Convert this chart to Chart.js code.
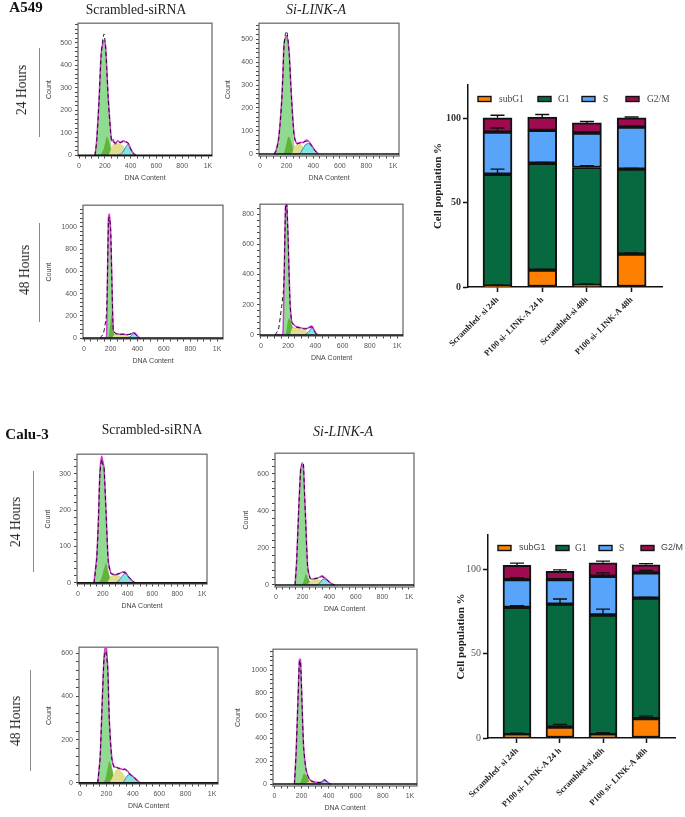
<!DOCTYPE html>
<html lang="en">
<head>
    <meta charset="UTF-8">
    <title>Cell cycle flow cytometry</title>
    <script src="https://cdn.jsdelivr.net/npm/chart.js"></script>
    <style>
        html, body { margin: 0; padding: 0; background: #fff; }
        body { position: relative; width: 685px; height: 817px; overflow: hidden; }
        canvas { position: absolute; filter: blur(0.4px); }
        .t { position: absolute; font-family: "Liberation Serif", serif; color: #222; white-space: nowrap; transform: translate(-50%, -50%); filter: blur(0.3px); }
        .b { font-weight: bold; font-size: 15px; color: #111; }
        .h { font-size: 13.6px; }
        .i { font-size: 14px; font-style: italic; }
        .r { font-size: 13.6px; transform: translate(-50%, -50%) rotate(-90deg); }
        .l { position: absolute; width: 1px; background: #8a8a8a; }
    </style>
</head>
<body>
    <div class="t b" style="left:26px;top:7px">A549</div>
    <div class="t h" style="left:136px;top:10px">Scrambled-siRNA</div>
    <div class="t i" style="left:316px;top:10px">Si-LINK-A</div>
    <div class="t r" style="left:22px;top:90px">24 Hours</div>
    <div class="l" style="left:39px;top:48px;height:89px"></div>
    <div class="t r" style="left:25px;top:270px">48 Hours</div>
    <div class="l" style="left:39px;top:223px;height:99px"></div>
    <div class="t b" style="left:27px;top:434px">Calu-3</div>
    <div class="t h" style="left:152px;top:430px">Scrambled-siRNA</div>
    <div class="t i" style="left:343px;top:432px">Si-LINK-A</div>
    <div class="t r" style="left:16px;top:522px">24 Hours</div>
    <div class="l" style="left:33px;top:471px;height:101px"></div>
    <div class="t r" style="left:16px;top:721px">48 Hours</div>
    <div class="l" style="left:30px;top:670px;height:101px"></div>

    <script>
        // A549 24h scrambled
        const h1X     = [124,137,155,171,185,194,205,215,225,233,243,253,265,280,300,320,340,360,380,400,420,440];
        const h1Total = [0,68,244,449,500,510,490,390,270,200,120,65,70,50,65,55,65,60,55,30,10,0];
        const h1Model = [0,62,240,445,520,540,490,385,265,190,115,60,60,55,58,58,60,62,55,28,8,0];
        const h1G1    = [0,62,240,445,495,505,485,380,260,175,85,30,8];
        const h1Dark  = [0,0,0,5,20,35,60,85,75,60,35,15,3];
        const h1S     = [0,0,0,0,0,0,0,0,0,5,20,35,50,50,55,50,45,30,12];
        const h1G2M   = [0,0,0,0,0,0,0,0,0,0,0,0,0,0,0,5,15,35,50,30,8];

        // A549 24h si-LINK-A
        const h2X     = [105,120,138,150,163,172,180,190,200,210,220,230,238,248,258,276,300,325,345,365,385,405,425,440];
        const h2Total = [0,15,62,130,234,350,478,505,514,490,435,320,234,140,76,45,50,50,60,55,40,22,8,0];
        const h2Model = [0,12,58,125,230,345,470,520,535,500,425,310,225,135,72,44,48,50,55,52,38,20,6,0];
        const h2G1    = [0,12,58,125,230,345,470,500,508,480,420,300,205,100,40,8];
        const h2Dark  = [0,0,0,0,0,0,5,25,50,72,75,60,45,25,10];
        const h2S     = [0,0,0,0,0,0,0,0,0,0,0,0,0,15,32,40,45,30,15,5];
        const h2G2M   = [0,0,0,0,0,0,0,0,0,0,0,0,0,0,0,0,2,25,42,45,35,20,6];

        // A549 48h scrambled
        const h3X     = [120,145,165,170,175,183,190,200,210,220,235,260,290,320,345,360,375,390,405,420];
        const h3Total = [0,0,0,20,455,1080,1116,961,485,68,45,35,35,30,35,40,50,35,12,0];
        const h3Model = [0,39,173,250,470,1050,1090,980,480,65,40,33,33,30,33,38,45,30,10,0];
        const h3G1    = [0,0,0,20,450,1070,1105,950,470,40,10];
        const h3Dark  = [0,0,0,0,0,0,50,150,220,60,20];
        const h3S     = [0,0,0,0,0,0,0,0,0,20,32,33,33,28,18,8];
        const h3G2M   = [0,0,0,0,0,0,0,0,0,0,0,0,0,0,10,25,42,30,10];

        // A549 48h si-LINK-A
        const h4X     = [103,128,152,160,164,171,181,189,200,213,226,240,260,290,320,345,360,375,390,405,420];
        const h4Total = [0,0,0,0,60,406,880,880,625,232,90,70,55,48,42,45,55,58,35,10,0];
        const h4Model = [0,35,188,250,275,400,870,870,640,220,85,65,52,46,40,42,50,52,30,8,0];
        const h4G1    = [0,0,0,0,55,400,870,870,600,200,40,10];
        const h4Dark  = [0,0,0,0,0,0,0,40,100,110,70,45,15];
        const h4S     = [0,0,0,0,0,0,0,0,0,0,40,55,48,45,35,18,8];
        const h4G2M   = [0,0,0,0,0,0,0,0,0,0,0,0,0,0,0,15,32,48,30,10];

        // Calu-3 24h scrambled
        const h5X     = [129,151,164,177,191,200,210,226,244,264,280,300,320,340,360,380,400,420,440,460];
        const h5Total = [0,71,171,307,348,335,316,198,62,28,25,22,25,27,30,30,20,12,5,0];
        const h5Model = [0,66,165,300,340,325,320,195,58,26,23,22,24,26,28,28,20,12,5,0];
        const h5G1    = [0,66,165,298,342,330,312,180,40,5];
        const h5Dark  = [0,0,0,5,15,25,40,55,30,8];
        const h5S     = [0,0,0,0,0,0,0,0,5,20,22,22,22,18,10,3];
        const h5G2M   = [0,0,0,0,0,0,0,0,0,0,0,0,4,10,20,27,20,12,5];

        // Calu-3 24h si-LINK-A
        const h6X     = [143,155,171,186,196,205,214,223,238,256,270,290,310,330,345,360,380,400,420,440];
        const h6Total = [0,134,420,634,640,650,500,348,98,38,32,35,38,42,50,42,30,18,6,0];
        const h6Model = [0,128,415,630,660,665,500,340,92,36,30,33,36,40,45,40,28,16,5,0];
        const h6G1    = [0,128,415,628,635,645,490,330,70,15];
        const h6Dark  = [0,0,0,0,5,15,35,60,40,15,3];
        const h6S     = [0,0,0,0,0,0,0,0,5,18,27,32,34,28,18,8];
        const h6G2M   = [0,0,0,0,0,0,0,0,0,0,0,0,0,12,27,33,28,16,5];

        // Calu-3 48h scrambled
        const h7X     = [134,152,167,182,195,210,222,240,258,280,300,320,340,360,380,400,420,440,455];
        const h7Total = [0,119,363,585,640,531,287,119,75,72,68,62,65,55,40,30,20,8,0];
        const h7Model = [0,115,358,580,610,525,285,115,70,70,65,60,62,52,38,28,18,7,0];
        const h7G1    = [0,115,358,578,630,520,275,90,20];
        const h7Dark  = [0,0,0,5,25,70,100,70,25];
        const h7S     = [0,0,0,0,0,0,0,20,45,65,60,48,30,12];
        const h7G2M   = [0,0,0,0,0,0,0,0,0,0,0,0,15,35,40,30,18,7];

        // Calu-3 48h si-LINK-A
        const h8X     = [148,160,173,185,193,205,216,235,259,285,310,340,355,370,385,400,415];
        const h8Total = [0,267,700,1093,1093,672,325,122,40,22,15,15,25,38,25,8,0];
        const h8Model = [0,260,690,1080,1075,680,320,118,38,20,14,14,23,35,23,7,0];
        const h8G1    = [0,260,690,1080,1085,660,300,90,15];
        const h8Dark  = [0,0,0,0,15,50,90,80,20];
        const h8S     = [0,0,0,0,0,0,0,10,20,18,14,10,5];
        const h8G2M   = [0,0,0,0,0,0,0,0,0,0,0,0,15,33,25,8];

        // stacked bars, percent
        const barCats = ['Scrambled- si 24h', 'P100 si- LINK-A 24 h', 'Scrambled-si 48h', 'P100 si- LINK-A 48h'];
        const phases  = ['subG1', 'G1', 'S', 'G2/M'];

        const a549SubG1 = [0.5, 10, 1, 19.5];
        const a549G1    = [66.5, 63.5, 70, 50.5];
        const a549S     = [25, 19.5, 20.5, 25];
        const a549G2M   = [8.5, 8, 6, 5.5];
        const a549SubG1Err = [0.5, 0.5, 0.8, 0.7];
        const a549G1Err    = [3, 0.5, 1, 0.5];
        const a549SErr     = [2.5, 0.5, 0.7, 0.5];
        const a549G2MErr   = [1.5, 1.5, 0.8, 0.5];

        const caluSubG1 = [2, 6.5, 2, 11.5];
        const caluG1    = [75.5, 73, 71, 71.5];
        const caluS     = [16.5, 14.5, 23, 15];
        const caluG2M   = [8.5, 5, 8, 4.8];
        const caluSubG1Err = [0.8, 1.5, 1.2, 1.5];
        const caluG1Err    = [1, 3, 3.5, 0.5];
        const caluSErr     = [1.2, 0.5, 2, 1.5];
        const caluG2MErr   = [1.3, 0.8, 1, 0.7];

        const barColors = ['#ff8000', '#07693f', '#58a4fb', '#9e0b50'];

        function pts(xs, ys) {
            return xs.map((x, i) => ({ x: x, y: ys[i] || 0 }));
        }

        // plot frame round each histogram
        const framePlugin = {
            id: 'frame',
            beforeDatasetsDraw(chart) {
                const a = chart.chartArea, c = chart.ctx;
                c.save();
                c.strokeStyle = '#6e6e6e';
                c.lineWidth = 1.3;
                c.strokeRect(a.left, a.top, a.right - a.left, a.bottom - a.top);
                c.restore();
            }
        };

        function histogram(p, xs, total, model, g1, dark, s, g2m) {
            // top padding has to clear half a tick label or the layout pushes the plot down
            const left = p.l - p.gap - 4, top = p.t - 6;
            const cv = document.createElement('canvas');
            cv.width = p.r - left + 8;
            cv.height = p.b + 26 - top;
            cv.style.left = left + 'px';
            cv.style.top = top + 'px';
            document.body.appendChild(cv);

            const area = (ys, color) => ({
                data: pts(xs, ys), backgroundColor: color, borderWidth: 0, fill: 'origin', pointRadius: 0, tension: 0.2
            });
            new Chart(cv.getContext('2d'), {
                type: 'line',
                data: {
                    datasets: [
                        { data: [{ x: p.xMin, y: 0 }, { x: p.xMax, y: 0 }], borderColor: '#111', borderWidth: 1.6, pointRadius: 0 },
                        { data: pts(xs, model), borderColor: '#111', borderWidth: 1, borderDash: [4, 3], pointRadius: 0, tension: 0.2 },
                        { data: pts(xs, total), borderColor: '#d43ad4', borderWidth: 1.5, pointRadius: 0, tension: 0.2 },
                        Object.assign(area(g2m, '#7fe6e0'), { borderColor: '#3a78d8', borderWidth: 1 }),
                        area(s, '#e4dc8e'),
                        area(dark, '#62b23c'),
                        area(g1, '#8fdc90')
                    ]
                },
                options: {
                    responsive: false,
                    animation: false,
                    devicePixelRatio: 1,
                    layout: { padding: { top: 6, right: 8 } },
                    plugins: { legend: { display: false }, tooltip: { enabled: false } },
                    scales: {
                        x: {
                            type: 'linear', min: p.xMin, max: p.xMax,
                            afterBuildTicks(sc) {
                                const list = [];
                                for (let v = 0; v <= 1000; v += 50) list.push({ value: v });
                                sc.ticks = list;
                            },
                            afterFit(sc) { sc.height = 26; },
                            border: { display: false },
                            grid: { drawOnChartArea: false, tickLength: 2.5, tickColor: '#444' },
                            ticks: {
                                autoSkip: false, maxRotation: 0, padding: 3, color: '#555',
                                font: { family: 'Liberation Sans', size: 7 },
                                callback: v => v === 1000 ? '1K' : (v % 200 === 0 ? String(v) : '')
                            },
                            title: { display: true, text: 'DNA Content', color: '#444', padding: 0, font: { family: 'Liberation Sans', size: 7 } }
                        },
                        y: {
                            min: p.yMin, max: p.yMax,
                            afterBuildTicks(sc) {
                                const list = [];
                                for (let v = 0; v <= p.yMax; v += p.yStep / 5) list.push({ value: v });
                                sc.ticks = list;
                            },
                            afterFit(sc) { sc.width = p.gap + 4; },
                            border: { display: false },
                            grid: { drawOnChartArea: false, tickLength: 3, tickColor: '#444' },
                            ticks: {
                                autoSkip: false, padding: 3, color: '#555',
                                font: { family: 'Liberation Sans', size: 7 },
                                callback: v => v % p.yStep === 0 ? String(v) : ''
                            },
                            title: { display: p.count, text: 'Count', color: '#444', padding: 0, font: { family: 'Liberation Sans', size: 7 } }
                        }
                    }
                },
                plugins: [framePlugin]
            });
        }

        histogram({ l: 78, t: 22, r: 212, b: 156, gap: 29, xMin: -8, xMax: 1031, yMin: -3, yMax: 588, yStep: 100, count: true }, h1X, h1Total, h1Model, h1G1, h1Dark, h1S, h1G2M);
        histogram({ l: 259, t: 22, r: 399, b: 156, gap: 31, xMin: -8, xMax: 1045, yMin: -9, yMax: 569, yStep: 100, count: true }, h2X, h2Total, h2Model, h2G1, h2Dark, h2S, h2G2M);
        histogram({ l: 83, t: 204, r: 223, b: 339, gap: 34, xMin: -8, xMax: 1045, yMin: -9, yMax: 1196, yStep: 200, count: true }, h3X, h3Total, h3Model, h3G1, h3Dark, h3S, h3G2M);
        histogram({ l: 260, t: 203, r: 403, b: 336, gap: 31, xMin: -7, xMax: 1044, yMin: -7, yMax: 866, yStep: 200, count: false }, h4X, h4Total, h4Model, h4G1, h4Dark, h4S, h4G2M);
        histogram({ l: 77, t: 453, r: 207, b: 584, gap: 29, xMin: -8, xMax: 1040, yMin: -3, yMax: 354, yStep: 100, count: true }, h5X, h5Total, h5Model, h5G1, h5Dark, h5S, h5G2M);
        histogram({ l: 275, t: 452, r: 414, b: 587, gap: 29, xMin: -8, xMax: 1038, yMin: -11, yMax: 712, yStep: 200, count: true }, h6X, h6Total, h6Model, h6G1, h6Dark, h6S, h6G2M);
        histogram({ l: 79, t: 646, r: 218, b: 784, gap: 30, xMin: -8, xMax: 1045, yMin: -5, yMax: 628, yStep: 200, count: true }, h7X, h7Total, h7Model, h7G1, h7Dark, h7S, h7G2M);
        histogram({ l: 273, t: 648, r: 417, b: 786, gap: 35, xMin: -10, xMax: 1052, yMin: -17, yMax: 1183, yStep: 200, count: true }, h8X, h8Total, h8Model, h8G1, h8Dark, h8S, h8G2M);

        // upward whiskers above each stack segment
        const whiskerPlugin = {
            id: 'whisker',
            afterDatasetsDraw(chart) {
                const c = chart.ctx, xs = chart.scales.x, ys = chart.scales.y;
                const base = [0, 0, 0, 0];
                c.save();
                c.strokeStyle = '#111';
                c.lineWidth = 1.4;
                chart.data.datasets.forEach(ds => {
                    ds.data.forEach((d, i) => {
                        base[i] += d.y;
                        const px = xs.getPixelForValue(i);
                        const y0 = ys.getPixelForValue(base[i]);
                        const y1 = ys.getPixelForValue(base[i] + ds.errs[i]);
                        c.beginPath();
                        c.moveTo(px, y0); c.lineTo(px, y1);
                        c.moveTo(px - 7, y1); c.lineTo(px + 7, y1);
                        c.stroke();
                    });
                });
                c.restore();
            }
        };

        // the legend sits inside the axes with uneven gaps, so it is placed item by item
        function legendPlugin(o) {
            return {
                id: 'phaseLegend',
                afterDraw(chart) {
                    const c = chart.ctx;
                    c.save();
                    c.textBaseline = 'middle';
                    chart.data.datasets.forEach((ds, i) => {
                        c.fillStyle = ds.backgroundColor;
                        c.strokeStyle = '#111';
                        c.lineWidth = 1.4;
                        c.fillRect(o.swatch[i] - o.left, o.y - o.top - 2.5, 13, 5);
                        c.strokeRect(o.swatch[i] - o.left, o.y - o.top - 2.5, 13, 5);
                        c.fillStyle = '#444';
                        c.font = o.fonts[i];
                        c.fillText(ds.label, o.text[i] - o.left, o.y - o.top);
                    });
                    c.restore();
                }
            };
        }

        function stacked(p, series, errs) {
            const cv = document.createElement('canvas');
            cv.width = p.canvasR - p.l;
            cv.height = p.canvasB - p.t;
            cv.style.left = p.l + 'px';
            cv.style.top = p.t + 'px';
            document.body.appendChild(cv);

            const serif = 'Liberation Serif';
            new Chart(cv.getContext('2d'), {
                type: 'bar',
                data: {
                    datasets: phases.map((name, k) => ({
                        label: name,
                        data: series[k].map((y, i) => ({ x: i, y: y })),
                        errs: errs[k],
                        backgroundColor: barColors[k],
                        borderColor: '#111',
                        borderWidth: 2,
                        borderSkipped: false,
                        barThickness: p.barW
                    }))
                },
                options: {
                    responsive: false,
                    animation: false,
                    devicePixelRatio: 1,
                    layout: { padding: { top: p.padTop, right: p.canvasR - p.areaR } },
                    plugins: { legend: { display: false }, tooltip: { enabled: false } },
                    scales: {
                        x: {
                            type: 'linear', stacked: true, offset: false, min: p.xMin, max: p.xMax,
                            afterBuildTicks(sc) { sc.ticks = barCats.map((_, i) => ({ value: i })); },
                            afterFit(sc) { sc.height = p.canvasB - p.areaB; },
                            border: { color: '#111', width: 1.5 },
                            grid: { offset: false, drawOnChartArea: false, tickLength: 5, tickColor: '#111', tickWidth: 1.5 },
                            ticks: {
                                autoSkip: false, minRotation: 45, maxRotation: 45, padding: 3, color: '#222',
                                font: { family: serif, size: 8.6, weight: 'bold' },
                                callback: v => barCats[v]
                            }
                        },
                        y: {
                            stacked: true, min: 0, max: p.yMax,
                            afterBuildTicks(sc) { sc.ticks = [0, 50, 100].map(v => ({ value: v })); },
                            afterFit(sc) { sc.width = p.yW; },
                            border: { color: '#111', width: 1.5 },
                            grid: { drawOnChartArea: false, tickLength: 5, tickColor: '#111', tickWidth: 1.5 },
                            ticks: {
                                padding: 2, color: p.tickColor,
                                font: { family: serif, size: 10, weight: p.tickWeight }
                            },
                            title: { display: true, text: 'Cell population %', color: '#222', padding: 0, font: { family: serif, size: 11, weight: 'bold' } }
                        }
                    }
                },
                plugins: [whiskerPlugin, legendPlugin(p.legend)]
            });
        }

        stacked({
            l: 432, t: 77, canvasR: 680, canvasB: 362, areaR: 662, areaB: 287, padTop: 8, yW: 36,
            xMin: -0.66, xMax: 3.68, yMax: 120, barW: 29, tickColor: '#333', tickWeight: 'bold',
            legend: {
                left: 432, top: 77, y: 99,
                swatch: [478, 538, 582, 626], text: [499, 558, 603, 647],
                fonts: ['9.5px "Liberation Serif"', '9.5px "Liberation Serif"', '9.5px "Liberation Serif"', '9.5px "Liberation Serif"']
            }
        }, [a549SubG1, a549G1, a549S, a549G2M], [a549SubG1Err, a549G1Err, a549SErr, a549G2MErr]);

        stacked({
            l: 455, t: 527, canvasR: 685, canvasB: 812, areaR: 675, areaB: 738, padTop: 8, yW: 33,
            xMin: -0.674, xMax: 3.674, yMax: 120.5, barW: 28, tickColor: '#555', tickWeight: 'normal',
            legend: {
                left: 455, top: 527, y: 548,
                swatch: [498, 556, 599, 641], text: [519, 575, 619, 661],
                fonts: ['9px "Liberation Sans"', '9.5px "Liberation Serif"', '9.5px "Liberation Serif"', '9px "Liberation Sans"']
            }
        }, [caluSubG1, caluG1, caluS, caluG2M], [caluSubG1Err, caluG1Err, caluSErr, caluG2MErr]);
    </script>
</body>
</html>
